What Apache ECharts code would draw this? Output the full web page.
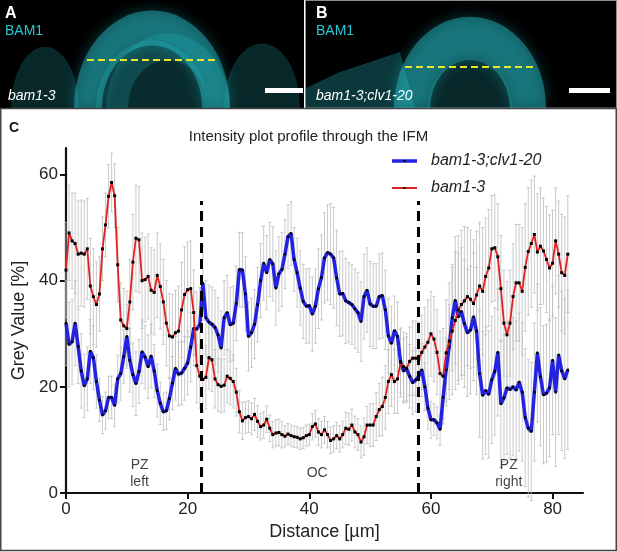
<!DOCTYPE html>
<html>
<head>
<meta charset="utf-8">
<script src="https://cdn.jsdelivr.net/npm/echarts@6.0.0/dist/echarts.min.js"></script>
<style>
  html, body { margin: 0; padding: 0; background: #fff; }
  #chart { width: 617px; height: 552px; }
</style>
</head>
<body>
<div id="chart"></div>
<script>
// Profile samples every 0.5 µm
const step = 0.5;

// bam1-3;clv1-20 mean grey value [%]
const greyClv = [
  32, 28, 28.5, 32, 27.6, 23, 20.2, 21.5, 26.7, 25.5,
  21, 17.5, 14.7, 15.5, 18, 18, 16.5, 21.5, 22.5, 25.7,
  29.5, 25, 22.3, 20.6, 22.9, 26.6, 25.6, 23.8, 25.8, 23,
  19.3, 16.9, 15.3, 15.5, 17.8, 20.7, 23.5, 22.4, 22.6, 23.5,
  24.5, 27.5, 31, 30.9, 31.7, 39.5, 33, 32.2, 31.8, 31.2,
  29.8, 27.3, 33, 34, 31.7, 32, 35.7, 42.1, 42, 37.5,
  29.5, 30.2, 31.8, 35.5, 40, 43.3, 41.5, 44, 43.2, 38.6,
  41.3, 42.1, 45, 48.3, 48.9, 44, 41.5, 38.6, 36.1, 35.2,
  35.3, 33.7, 35.2, 38.5, 40.6, 44.3, 45.3, 45, 44.3, 40.5,
  37.5, 37.6, 36.2, 35.9, 35.5, 34.7, 34, 32.3, 37, 38.2,
  35.6, 35.2, 35.2, 37, 37.2, 34.5, 29.6, 28.2, 30.6, 29.5,
  24.8, 23, 23.4, 22, 20.8, 21.3, 22, 23.2, 20, 16,
  13.8, 13.8, 13.2, 12, 18, 23.2, 27.5, 33, 36.3, 33.2,
  34.2, 31.9, 30.2, 30.7, 33.2, 30.5, 22.5, 18.4, 19.3, 18.6,
  21.3, 22.9, 26.5, 16.8, 17.9, 19.8, 19.5, 20, 19.4, 20.9,
  19, 14.2, 12.2, 11.6, 19, 26.4, 21.9, 18.5, 18.8, 19.8,
  25, 19, 26, 23, 21.5, 23.2
];
const sdClv = [
  8, 8, 8, 8, 7, 7, 6, 6, 6, 6,
  5, 4, 3.5, 3.5, 4, 4, 4, 4.5, 5, 5,
  6, 6, 6, 6, 6, 6, 6, 6, 6, 5,
  5, 4, 3.5, 3.5, 4, 5, 6, 6, 6, 6,
  6, 6.5, 7, 7, 7, 7, 7, 7, 7, 7,
  7, 7, 7, 7, 7, 7, 7, 7, 7, 7,
  6.5, 6.5, 6.5, 7, 7, 7, 7, 7, 7, 7,
  7, 7, 6.5, 6, 6, 6, 6.5, 7, 7, 7,
  7, 7, 7, 7.5, 8, 8.5, 9, 9.5, 9.5, 9,
  8, 8, 8, 7.5, 7.5, 7.5, 7.5, 7.5, 8, 8,
  8, 8, 8, 8, 8, 7.5, 7, 7, 6.5, 6.5,
  6, 6, 6, 6, 6, 6, 5.5, 5, 4.5, 4,
  3.5, 3, 3, 3, 4, 6, 8, 10, 12, 12,
  12, 12, 12, 12, 12, 12, 12, 12, 12, 12,
  12, 12, 12, 12, 12, 12.5, 13, 13, 13, 13,
  13, 13, 13, 13, 13, 13, 13, 13, 13, 13,
  14, 14, 15, 15, 15, 15
];

// bam1-3 mean grey value [%]
const greyBam = [
  42, 49, 47.5, 47, 45, 45.2, 45, 46, 39, 37,
  35.5, 37.5, 46, 50.5, 55.9, 58.5, 56, 43, 32.6, 31.5,
  31, 36, 43.5, 48, 47.7, 40, 40.2, 40.8, 38.2, 37.8,
  41, 38.9, 36, 32, 29.6, 29.4, 30.2, 30.5, 34.5, 37.4,
  38.3, 38.5, 34, 24, 22, 21.4, 21.8, 25.5, 25.1, 21.5,
  20.4, 20.1, 20.3, 22, 21.6, 21, 19, 15.3, 13.6, 14.2,
  14.4, 14, 14.8, 13.5, 12.5, 12.8, 13.9, 12.2, 11, 11.3,
  11.4, 11, 10.7, 11.1, 10.8, 10.6, 10.5, 10.2, 10.4, 10.8,
  11, 12.5, 13, 11.5, 11, 11.9, 11, 9.9, 10.2, 10.8,
  10.2, 11, 12.2, 12, 12.8, 11.5, 11, 9.6, 10.6, 12.8,
  12.8, 12.8, 14.4, 15.7, 16.3, 18, 21, 22.3, 21, 21.5,
  24.6, 23.8, 23.5, 24.8, 25.4, 25.4, 25.2, 26.5, 27.5, 28.4,
  30, 29, 26.5, 22.5, 22, 26.4, 28.6, 30.5, 32.5, 34.5,
  35.5, 36.2, 37, 36.5, 35.7, 37.3, 39, 38, 40.8, 42.4,
  46, 46.2, 44.5, 38.5, 32, 29.8, 32, 37, 39.6, 39.6,
  38, 42.5, 45.5, 47, 48.7, 45.4, 46.5, 45.6, 44, 42.4,
  43.3, 47.5, 45, 41.5, 41, 45
];
const sdBam = [
  9, 9, 9, 9.5, 10, 10, 10, 9.5, 9, 9,
  8, 7, 6, 6, 6, 5.5, 6, 7, 7, 7,
  7, 8, 9, 10, 10, 9, 8, 8, 8, 8,
  8, 8, 8, 8, 8, 8, 8, 8.5, 9, 9,
  9, 9, 8, 7, 6, 6, 6, 6, 6, 5.5,
  5, 5, 5, 5, 5, 5, 4.5, 4, 3.5, 3,
  3, 3, 3, 3, 2.5, 2.5, 2.5, 2.5, 2.5, 2.5,
  2.5, 2.5, 2, 2, 2, 2, 2, 2, 2, 2,
  2, 2.5, 2.5, 2.5, 2.5, 2.5, 2.5, 2.5, 2.5, 2.5,
  2.5, 2.5, 3, 3, 3, 3, 3, 3, 3.5, 3.5,
  4, 4, 4.5, 5, 5.5, 6, 6, 6, 6, 6.5,
  6.5, 6.5, 6.5, 6.5, 7, 7, 7, 7, 7.5, 8,
  8, 8, 8, 8, 9, 10, 11, 12, 13, 14,
  14, 14, 13, 13, 12, 12, 12, 12, 11, 11,
  10, 10, 10, 10, 10, 10, 10, 10, 11, 11,
  12, 12, 12, 12, 11, 11, 11, 10, 10, 10,
  10, 10, 10, 11, 11, 11
];

// zone borders (µm) and zone names
const zoneBounds = [22.3, 57.9];
const zoneTop = 55;
const zoneLabels = [[12.1, 3.7, 'PZ\nleft'], [41.3, 3.7, 'OC'], [72.8, 3.7, 'PZ\nright']];

const xTicks = [0, 20, 40, 60, 80];
const yTicks = [0, 20, 40, 60];

const seriesNames = ['bam1-3;clv1-20', 'bam1-3'];
const lineColors = ['#2222e0', '#e02222'];
const lineWidths = [3.5, 1.8];

const FONT = 'Liberation Sans, Arial, sans-serif';

const toXY = arr => arr.map((v, i) => [i * step, v]);
const toErr = (arr, sd) => arr.map((v, i) => [i * step, v - sd[i], v + sd[i]]);

function errorBars(params, api) {
  const x = api.value(0);
  const lo = api.coord([x, api.value(1)]);
  const hi = api.coord([x, api.value(2)]);
  const cap = 1.6;
  const style = { stroke: '#bdbdbd', lineWidth: 0.8 };
  return {
    type: 'group',
    children: [
      { type: 'line', shape: { x1: lo[0], y1: lo[1], x2: hi[0], y2: hi[1] }, style },
      { type: 'line', shape: { x1: lo[0] - cap, y1: lo[1], x2: lo[0] + cap, y2: lo[1] }, style },
      { type: 'line', shape: { x1: hi[0] - cap, y1: hi[1], x2: hi[0] + cap, y2: hi[1] }, style }
    ]
  };
}

// microscopy panels A / B (rough stand-ins)
const cyan = a => 'rgba(40,200,210,' + a + ')';
const half = (cx, r0, r, sy, fill, glow) => ({
  type: 'sector',
  shape: { cx, cy: 108, r0, r, startAngle: Math.PI, endAngle: 2 * Math.PI },
  scaleY: sy, originX: cx, originY: 108,
  style: glow ? { fill, shadowBlur: 14, shadowColor: cyan(0.7) } : { fill }
});
const panels = [
  { type: 'rect', shape: { x: 0, y: 0, width: 304, height: 108 }, style: { fill: '#000' } },
  { type: 'rect', shape: { x: 305.5, y: 0.5, width: 311, height: 107.5 }, style: { fill: '#000', stroke: '#8a8a8a', lineWidth: 1 } },
  half(45, 0, 34, 1.8, cyan(0.2)),
  half(262, 0, 38, 1.7, cyan(0.2)),
  half(152, 0, 56, 1.2, cyan(0.22)),
  half(152, 50, 78, 1.25, cyan(0.42), true),
  half(168, 40, 62, 1.2, cyan(0.2)),
  { type: 'polygon', shape: { points: [[306, 88], [340, 72], [400, 52], [415, 108], [306, 108]] }, style: { fill: cyan(0.28) } },
  half(470, 0, 42, 1.15, cyan(0.2)),
  half(470, 40, 76, 1.2, cyan(0.42), true),
  // keep the glow inside the panels
  { type: 'rect', shape: { x: 0, y: 108, width: 617, height: 12 }, style: { fill: '#fff' } },
  { type: 'line', shape: { x1: 87, y1: 60, x2: 216, y2: 60 }, style: { stroke: '#e8e82a', lineWidth: 2, lineDash: [7, 4] } },
  { type: 'line', shape: { x1: 405, y1: 67, x2: 537, y2: 67 }, style: { stroke: '#e8e82a', lineWidth: 2, lineDash: [7, 4] } },
  { type: 'rect', shape: { x: 265, y: 88, width: 38, height: 5 }, style: { fill: '#fff' } },
  { type: 'rect', shape: { x: 569, y: 88, width: 41, height: 5 }, style: { fill: '#fff' } },
  { type: 'text', left: 5, top: 6, style: { text: 'A', fill: '#fff', font: 'bold 16px ' + FONT } },
  { type: 'text', left: 5, top: 24, style: { text: 'BAM1', fill: cyan(1), font: '14px ' + FONT } },
  { type: 'text', left: 8, top: 89, style: { text: 'bam1-3', fill: '#fff', font: 'italic 14px ' + FONT } },
  { type: 'text', left: 316, top: 6, style: { text: 'B', fill: '#fff', font: 'bold 16px ' + FONT } },
  { type: 'text', left: 316, top: 24, style: { text: 'BAM1', fill: cyan(1), font: '14px ' + FONT } },
  { type: 'text', left: 316, top: 89, style: { text: 'bam1-3;clv1-20', fill: '#fff', font: 'italic 14px ' + FONT } },
  // panel C frame + letter
  { type: 'rect', shape: { x: 0.75, y: 108.5, width: 615.5, height: 442 }, style: { fill: 'none', stroke: '#444', lineWidth: 1.5 } },
  { type: 'text', left: 9, top: 121, style: { text: 'C', fill: '#111', font: 'bold 14px ' + FONT } }
];

// legend drawn by hand (line + small dot + italic name)
seriesNames.forEach((name, i) => {
  const y = 161 + i * 27;
  panels.push(
    { type: 'line', shape: { x1: 392, y1: y, x2: 417, y2: y }, style: { stroke: lineColors[i], lineWidth: i === 0 ? 3.5 : 2 }, z: 10 },
    { type: 'rect', shape: { x: 403.5, y: y - 1, width: 2, height: 2 }, style: { fill: '#000' }, z: 11 },
    { type: 'text', x: 431, y: y, style: { text: name, fill: '#222', font: 'italic 16px ' + FONT, textVerticalAlign: 'middle' }, z: 11 }
  );
});

const chart = echarts.init(document.getElementById('chart'));

const option = {
  backgroundColor: '#fff',
  animation: false,
  textStyle: { fontFamily: FONT },
  title: {
    text: 'Intensity plot profile through the IFM',
    left: 'center',
    top: 124,
    textStyle: { fontSize: 15, fontWeight: 'normal', color: '#222', fontFamily: FONT }
  },
  graphic: panels,
  grid: { left: 66, top: 148, width: 517, height: 345 },
  xAxis: {
    type: 'value',
    min: 0,
    max: 85,
    interval: 20,
    name: 'Distance [µm]',
    nameLocation: 'middle',
    nameGap: 28,
    nameTextStyle: { fontSize: 18, color: '#222', fontFamily: FONT },
    splitLine: { show: false },
    axisLine: { lineStyle: { color: '#111', width: 2.2 } },
    axisTick: { show: true, length: 6, lineStyle: { color: '#111', width: 2 }, customValues: xTicks },
    axisLabel: { fontSize: 17, color: '#222', margin: 8, customValues: xTicks }
  },
  yAxis: {
    type: 'value',
    min: 0,
    max: 65,
    interval: 20,
    name: 'Grey Value [%]',
    nameLocation: 'middle',
    nameRotate: 90,
    nameGap: 30,
    nameTextStyle: { fontSize: 18, color: '#222', fontFamily: FONT },
    splitLine: { show: false },
    axisLine: { show: true, lineStyle: { color: '#111', width: 2.2 } },
    axisTick: { show: true, length: 6, lineStyle: { color: '#111', width: 2 }, customValues: yTicks },
    axisLabel: { fontSize: 17, color: '#222', margin: 8, customValues: yTicks }
  },
  series: [
    {
      type: 'custom',
      name: 'sd clv',
      renderItem: errorBars,
      data: toErr(greyClv, sdClv),
      encode: { x: 0, y: [1, 2] },
      silent: true,
      z: 1
    },
    {
      type: 'custom',
      name: 'sd bam',
      renderItem: errorBars,
      data: toErr(greyBam, sdBam),
      encode: { x: 0, y: [1, 2] },
      silent: true,
      z: 1
    },
    {
      type: 'line',
      name: seriesNames[0],
      data: toXY(greyClv),
      symbol: 'rect',
      symbolSize: 2.5,
      showAllSymbol: true,
      itemStyle: { color: '#000' },
      lineStyle: { color: lineColors[0], width: lineWidths[0] },
      z: 3
    },
    {
      type: 'line',
      name: seriesNames[1],
      data: toXY(greyBam),
      symbol: 'rect',
      symbolSize: 3,
      showAllSymbol: true,
      itemStyle: { color: '#000' },
      lineStyle: { color: lineColors[1], width: lineWidths[1] },
      z: 4,
      markLine: {
        silent: true,
        symbol: ['none', 'none'],
        label: { show: false },
        lineStyle: { color: '#000', width: 3, type: [10, 6] },
        data: zoneBounds.map(b => [{ coord: [b, 0] }, { coord: [b, zoneTop] }])
      }
    },
    {
      type: 'scatter',
      name: 'zones',
      data: zoneLabels,
      symbolSize: 0,
      silent: true,
      label: {
        show: true,
        position: 'inside',
        formatter: p => p.data[2],
        fontSize: 14,
        lineHeight: 17,
        color: '#111',
        fontFamily: FONT
      },
      z: 5
    }
  ]
};

chart.setOption(option);
</script>
</body>
</html>
